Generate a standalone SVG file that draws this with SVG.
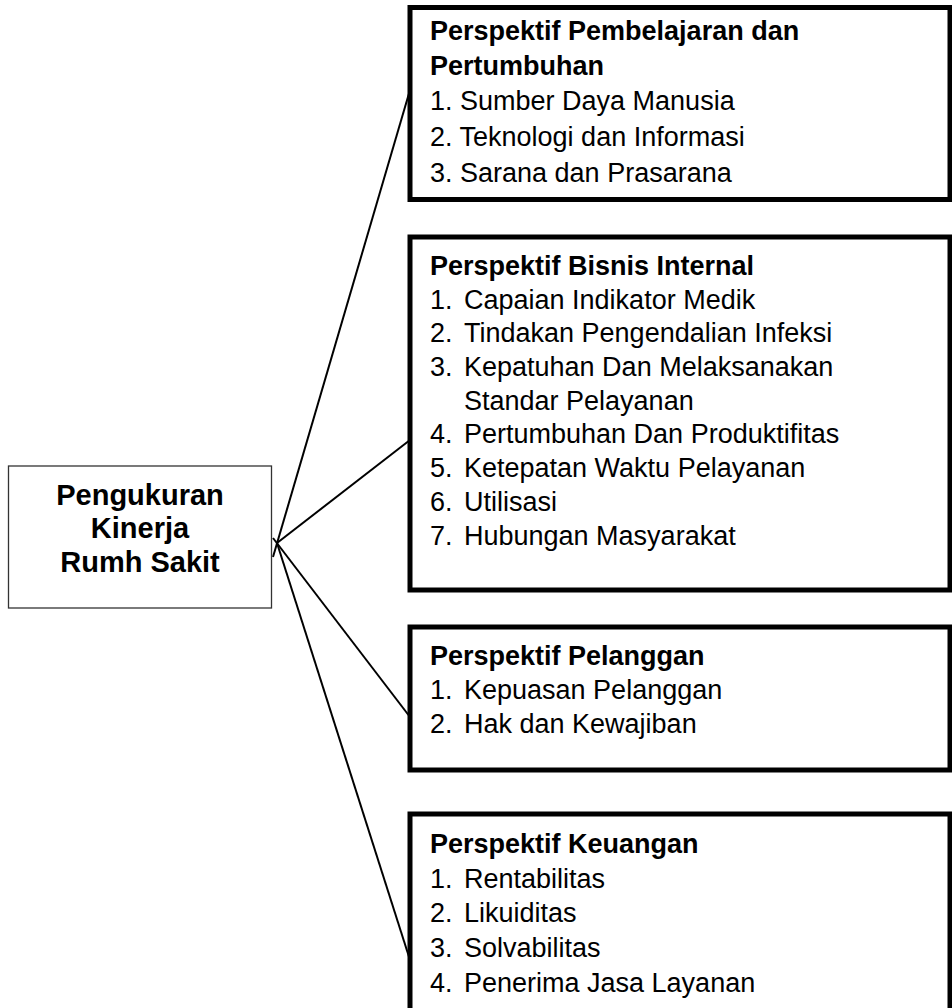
<svg xmlns="http://www.w3.org/2000/svg" width="952" height="1008" viewBox="0 0 952 1008">
  <style>
    .bg { fill: #ffffff; }
    .root { fill: #ffffff; stroke: #333333; stroke-width: 1.3; }
    .panel { fill: #ffffff; stroke: #000000; stroke-width: 5; }
    .link { stroke: #000000; stroke-width: 2; fill: none; }
    text { font-family: "Liberation Sans", Arial, sans-serif; fill: #000000; }
    .title { font-size: 29px; font-weight: bold; text-anchor: middle; }
    .head { font-size: 27px; font-weight: bold; }
    .item { font-size: 27px; }
  </style>
  <rect class="bg" x="0" y="0" width="952" height="1008"/>

  <!-- connectors fanning out from the central box -->
  <g id="connectors">
    <line class="link" x1="273" y1="557" x2="410" y2="90"/>
    <line class="link" x1="277" y1="543" x2="410" y2="440"/>
    <line class="link" x1="273" y1="538" x2="410" y2="717"/>
    <line class="link" x1="277" y1="543" x2="410" y2="960"/>
  </g>

  <g id="node-kinerja">
    <rect class="root" x="8.5" y="466" width="263" height="142"/>
    <text class="title" x="140" y="505">Pengukuran</text>
    <text class="title" x="140" y="538">Kinerja</text>
    <text class="title" x="140" y="572">Rumh Sakit</text>
  </g>

  <g id="node-pembelajaran">
    <rect class="panel" x="410" y="7.5" width="540" height="192"/>
    <text class="head" x="430" y="40">Perspektif Pembelajaran dan</text>
    <text class="head" x="430" y="75">Pertumbuhan</text>
    <text class="item" x="430" y="110">1. Sumber Daya Manusia</text>
    <text class="item" x="430" y="146">2. Teknologi dan Informasi</text>
    <text class="item" x="430" y="182">3. Sarana dan Prasarana</text>
  </g>

  <g id="node-bisnis">
    <rect class="panel" x="410" y="237" width="540" height="353"/>
    <text class="head" x="430" y="275">Perspektif Bisnis Internal</text>
    <text class="item" y="309"><tspan x="430">1.</tspan><tspan x="464">Capaian Indikator Medik</tspan></text>
    <text class="item" y="342"><tspan x="430">2.</tspan><tspan x="464">Tindakan Pengendalian Infeksi</tspan></text>
    <text class="item" y="376"><tspan x="430">3.</tspan><tspan x="464">Kepatuhan Dan Melaksanakan</tspan></text>
    <text class="item" y="410"><tspan x="464">Standar Pelayanan</tspan></text>
    <text class="item" y="443"><tspan x="430">4.</tspan><tspan x="464">Pertumbuhan Dan Produktifitas</tspan></text>
    <text class="item" y="477"><tspan x="430">5.</tspan><tspan x="464">Ketepatan Waktu Pelayanan</tspan></text>
    <text class="item" y="511"><tspan x="430">6.</tspan><tspan x="464">Utilisasi</tspan></text>
    <text class="item" y="545"><tspan x="430">7.</tspan><tspan x="464">Hubungan Masyarakat</tspan></text>
  </g>

  <g id="node-pelanggan">
    <rect class="panel" x="410" y="627" width="540" height="143"/>
    <text class="head" x="430" y="665">Perspektif Pelanggan</text>
    <text class="item" y="699"><tspan x="430">1.</tspan><tspan x="464">Kepuasan Pelanggan</tspan></text>
    <text class="item" y="733"><tspan x="430">2.</tspan><tspan x="464">Hak dan Kewajiban</tspan></text>
  </g>

  <g id="node-keuangan">
    <rect class="panel" x="410" y="814" width="540" height="230"/>
    <text class="head" x="430" y="853">Perspektif Keuangan</text>
    <text class="item" y="888"><tspan x="430">1.</tspan><tspan x="464">Rentabilitas</tspan></text>
    <text class="item" y="922"><tspan x="430">2.</tspan><tspan x="464">Likuiditas</tspan></text>
    <text class="item" y="957"><tspan x="430">3.</tspan><tspan x="464">Solvabilitas</tspan></text>
    <text class="item" y="992"><tspan x="430">4.</tspan><tspan x="464">Penerima Jasa Layanan</tspan></text>
  </g>
</svg>
